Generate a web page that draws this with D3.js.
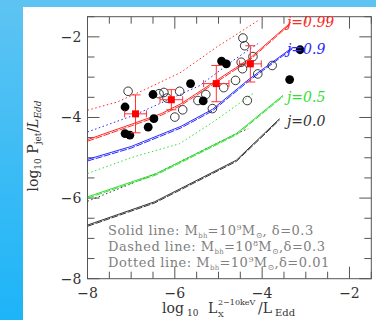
<!DOCTYPE html>
<html><head><meta charset="utf-8">
<script src="https://cdn.jsdelivr.net/npm/d3@7"></script>
<style>
html,body{margin:0;padding:0;background:#fff;}
svg{display:block;}
</style></head>
<body>
<svg id="c" width="376" height="320"></svg>
<script>
// ---- data ----
const xTicks = [-8, -6, -4, -2];
const yTicks = [-8, -6, -4, -2];
const spinLabels = ["j=0.99", "j=0.9", "j=0.5", "j=0.0"];
const spinColors = ["#ff2a2a", "#2a2aff", "#33dd33", "#333333"];
const spinLabelY = [-1.62, -2.3, -3.5, -4.08];

// solid lines (Mbh=1e9, delta=0.3)
const solidX = [
  [-8, -7, -6.3, -5.86, -5.1, -4.3, -3.34],
  [-8, -7, -5.86, -5.14, -4.3, -3.3],
  [-8, -6.42, -4.59, -3.52],
  [-8, -6.46, -4.59, -3.6]
];
const solidY = [
  [-4.55, -4.17, -3.9, -3.66, -3.12, -2.55, -1.64],
  [-5.04, -4.72, -4.22, -3.8, -3.05, -2.26],
  [-5.97, -5.39, -4.40, -3.45],
  [-6.67, -6.09, -5.06, -4.03]
];
// dashed lines (Mbh=1e8, delta=0.3)
const dashX = [
  [-8, -7, -6.3, -5.86, -5.1, -4.3, -3.34],
  [-8, -7, -5.86, -5.14, -4.3, -3.3],
  [-8, -6.42, -4.59, -3.52],
  [-8, -6.46, -4.59, -3.6]
];
const dashY = [
  [-4.59, -4.21, -3.94, -3.70, -3.16, -2.59, -1.67],
  [-5.08, -4.76, -4.26, -3.84, -3.09, -2.29],
  [-6.0, -5.42, -4.43, -3.48],
  [-6.7, -6.12, -5.09, -4.06]
];
// dotted lines (Mbh=1e9, delta=0.01)
const dotX = [
  [-8, -7.33, -6.65, -5.86, -5.05, -4.1],
  [-8, -6.95, -6.19, -5.43, -4.67, -4.1],
  [-8, -6.95, -5.89, -5.12, -4.21],
  [-8, -6.42, -4.59, -4.32]
];
const dotY = [
  [-3.82, -3.62, -3.29, -2.88, -2.26, -1.6],
  [-4.36, -3.95, -3.58, -3.21, -2.59, -2.17],
  [-5.39, -4.98, -4.65, -4.11, -3.41],
  [-6.08, -5.39, -4.40, -4.28]
];

// filled circles
const filledX = [-7.14, -7.14, -7.03, -6.50, -6.48, -6.61, -5.64, -5.35, -4.93, -4.82, -3.37, -3.13];
const filledY = [-3.74, -4.40, -4.44, -3.43, -4.03, -4.24, -3.16, -3.59, -2.60, -2.67, -3.06, -2.32];
// open circles
const openX = [-7.07, -6.36, -6.25, -6.18, -5.89, -6.0, -5.82, -5.47, -5.29, -5.14, -4.88, -4.61, -4.44, -4.40, -4.48, -4.45, -4.21, -4.10, -3.77, -4.34];
const openY = [-3.35, -3.41, -3.38, -3.52, -3.35, -3.99, -3.81, -3.58, -3.43, -3.78, -3.26, -3.08, -2.03, -2.22, -2.63, -2.79, -2.49, -2.92, -2.71, -3.58];
// binned means with error bars
const binX = [-6.90, -6.08, -5.05, -4.27];
const binY = [-3.91, -3.56, -3.16, -2.67];
const binXerr = [0.25, 0.26, 0.29, 0.25];
const binYerr = [0.47, 0.25, 0.45, 0.45];

const legendLines = [
  ["Solid line: M", "bh", "=10", "9", "M", "⊙", ",  δ=0.3"],
  ["Dashed line: M", "bh", "=10", "8", "M", "⊙", ",δ=0.3"],
  ["Dotted line: M", "bh", "=10", "9", "M", "⊙", ",δ=0.01"]
];

// ---- drawing ----
const svg = d3.select("#c");
const defs = svg.append("defs");
const lg = defs.append("linearGradient").attr("id","bg").attr("x1",0).attr("y1",0).attr("x2",0).attr("y2",1);
lg.append("stop").attr("offset","0%").attr("stop-color","#5ec4f2");
lg.append("stop").attr("offset","100%").attr("stop-color","#1db4f8");
svg.append("rect").attr("x",0).attr("y",0).attr("width",376).attr("height",320).attr("fill","url(#bg)");
svg.append("rect").attr("x",0).attr("y",0).attr("width",376).attr("height",7).attr("fill","#5cc3f3");
svg.append("rect").attr("x",23).attr("y",7).attr("width",353).attr("height",313).attr("fill","#fff");

const L = 87.5, R = 371.3, T = 16.7, B = 278.7;
const x = d3.scaleLinear().domain([-8, -1.5]).range([L, R]);
const y = d3.scaleLinear().domain([-8, -1.5]).range([B, T]);

const frameColor = "#555";
const fontSerif = "'DejaVu Serif','Liberation Serif',serif";

defs.append("clipPath").attr("id","clip").append("rect").attr("x",L).attr("y",T).attr("width",R-L).attr("height",B-T);

// ticks
const g = svg.append("g");
const minorX = d3.range(-8, -1.5 + 1e-9, 0.5);
const minorY = d3.range(-8, -1.5 + 1e-9, 0.5);
function tickLen(v){ return Math.abs(v - Math.round(v/2)*2) < 1e-6 ? 12 : 7; }
minorX.forEach(v => {
  const len = tickLen(v);
  g.append("line").attr("x1",x(v)).attr("x2",x(v)).attr("y1",B).attr("y2",B-len).attr("stroke",frameColor);
  g.append("line").attr("x1",x(v)).attr("x2",x(v)).attr("y1",T).attr("y2",T+len).attr("stroke",frameColor);
});
minorY.forEach(v => {
  const len = tickLen(v);
  g.append("line").attr("y1",y(v)).attr("y2",y(v)).attr("x1",L).attr("x2",L+len).attr("stroke",frameColor);
  g.append("line").attr("y1",y(v)).attr("y2",y(v)).attr("x1",R).attr("x2",R-len).attr("stroke",frameColor);
});
svg.append("rect").attr("x",L).attr("y",T).attr("width",R-L).attr("height",B-T).attr("fill","none").attr("stroke",frameColor).attr("stroke-width",1);

// tick labels
xTicks.forEach(v => {
  svg.append("text").attr("x",x(v)).attr("y",B+19).attr("text-anchor","middle")
    .attr("font-family",fontSerif).attr("font-size",14).attr("fill","#333").text("\u2212"+Math.abs(v));
});
yTicks.forEach(v => {
  svg.append("text").attr("x",L-6).attr("y",y(v)+5).attr("text-anchor","end")
    .attr("font-family",fontSerif).attr("font-size",14).attr("fill","#333").text("\u2212"+Math.abs(v));
});

// x axis title (pieces placed explicitly)
function txt(xp, yp, s, size){
  return svg.append("text").attr("x",xp).attr("y",yp).attr("font-family",fontSerif)
    .attr("font-size",size).attr("fill","#333").text(s);
}
txt(162, 313, "log", 14);
txt(187, 316, "10", 9);
txt(208, 313, "L", 14);
txt(218, 305, "2\u221210keV", 8);
txt(218, 317, "X", 8);
txt(258, 313, "/L", 14);
txt(275, 316, "Edd", 10);

// y axis title
const yt = svg.append("text").attr("transform","translate(38,146) rotate(-90)").attr("text-anchor","middle")
  .attr("font-family",fontSerif).attr("font-size",14).attr("fill","#333");
yt.append("tspan").text("log");
yt.append("tspan").attr("font-size",9).attr("dy",3).text("10");
yt.append("tspan").attr("dy",-3).text(" P");
yt.append("tspan").attr("font-size",9).attr("dy",3).text("jet");
yt.append("tspan").attr("dy",-3).text("/");
yt.append("tspan").attr("font-style","italic").text("L");
yt.append("tspan").attr("font-size",9).attr("font-style","italic").attr("dy",3).text("Edd");

// plot content
const pg = svg.append("g").attr("clip-path","url(#clip)");
const line = d3.line().x(d=>x(d[0])).y(d=>y(d[1]));
function drawSet(xs, ys, dash){
  xs.forEach((xa,i)=>{
    const pts = xa.map((v,k)=>[v, ys[i][k]]);
    pg.append("path").attr("d",line(pts)).attr("fill","none").attr("stroke",spinColors[i])
      .attr("stroke-width",1).attr("stroke-dasharray",dash);
  });
}
drawSet(dotX, dotY, "1.5,2.5");
drawSet(dashX, dashY, "7,1.5");
drawSet(solidX, solidY, null);

// spin labels
spinLabels.forEach((t,i)=>{
  svg.append("text").attr("x",287).attr("y",y(spinLabelY[i])+5).attr("font-family",fontSerif)
    .attr("font-style","italic").attr("font-size",14).attr("fill",spinColors[i]).text(t);
});

// points
openX.forEach((v,i)=>{
  pg.append("circle").attr("cx",x(v)).attr("cy",y(openY[i])).attr("r",4.3)
    .attr("fill","none").attr("stroke","#222").attr("stroke-width",0.9);
});
filledX.forEach((v,i)=>{
  pg.append("circle").attr("cx",x(v)).attr("cy",y(filledY[i])).attr("r",4.4).attr("fill","#000");
});

// binned points with error bars
const ec = "#ff3333";
binX.forEach((v,i)=>{
  const cx = x(v), cy = y(binY[i]);
  const x0 = x(v-binXerr[i]), x1 = x(v+binXerr[i]);
  const y0 = y(binY[i]-binYerr[i]), y1 = y(binY[i]+binYerr[i]);
  pg.append("line").attr("x1",x0).attr("x2",x1).attr("y1",cy).attr("y2",cy).attr("stroke",ec);
  pg.append("line").attr("x1",cx).attr("x2",cx).attr("y1",y0).attr("y2",y1).attr("stroke",ec);
  pg.append("line").attr("x1",x0).attr("x2",x0).attr("y1",cy-3.5).attr("y2",cy+3.5).attr("stroke",ec);
  pg.append("line").attr("x1",x1).attr("x2",x1).attr("y1",cy-3.5).attr("y2",cy+3.5).attr("stroke",ec);
  pg.append("line").attr("x1",cx-5).attr("x2",cx+5).attr("y1",y0).attr("y2",y0).attr("stroke",ec);
  pg.append("line").attr("x1",cx-5).attr("x2",cx+5).attr("y1",y1).attr("y2",y1).attr("stroke",ec);
  pg.append("rect").attr("x",cx-3.5).attr("y",cy-3.5).attr("width",7).attr("height",7).attr("fill","#ff0000");
});

// legend text
const legY = [235, 251, 267];
legendLines.forEach((parts,i)=>{
  const t = svg.append("text").attr("x",108).attr("y",legY[i]).attr("font-family",fontSerif)
    .attr("font-size",13).attr("letter-spacing",0.5).attr("fill","#808080");
  t.append("tspan").text(parts[0]);
  t.append("tspan").attr("font-size",7).attr("letter-spacing",0.2).attr("dy",3).text(parts[1]);
  t.append("tspan").attr("dy",-3).text(parts[2]);
  t.append("tspan").attr("font-size",8).attr("letter-spacing",0.2).attr("dy",-5).text(parts[3]);
  t.append("tspan").attr("dy",5).text(parts[4]);
  t.append("tspan").attr("font-size",8).attr("letter-spacing",0.2).attr("dy",3).text(parts[5]);
  t.append("tspan").attr("dy",-3).text(parts[6]);
});
</script>
</body></html>
